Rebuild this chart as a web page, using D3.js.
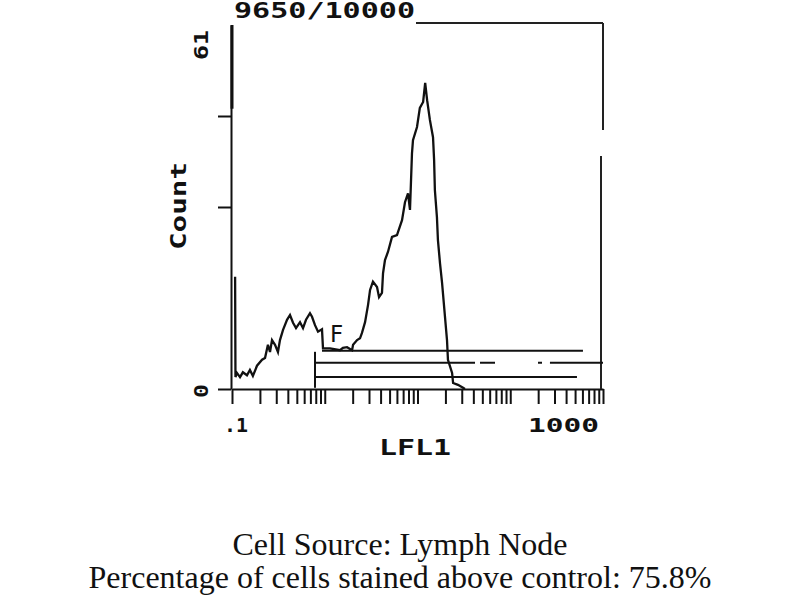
<!DOCTYPE html>
<html>
<head>
<meta charset="utf-8">
<title>LFL1 histogram</title>
<script src="https://d3js.org/d3.v7.min.js"></script>
<style>
  html, body { margin: 0; padding: 0; background: #fff; }
  svg { display: block; }
  .pix { font-family: "DejaVu Sans Mono", monospace; font-weight: bold; fill: #111; }
  .cap { font-family: "Liberation Serif", "Times New Roman", serif; fill: #111; font-size: 32px; }
</style>
</head>
<body>
<div id="chart"></div>
<script>
// histogram: LFL1 channel value and count
var lfl = [0.108, 0.109, 0.113, 0.122, 0.131, 0.145, 0.156, 0.168, 0.186, 0.211, 0.227, 0.244, 0.257, 0.270,
           0.291, 0.313, 0.329, 0.355, 0.392, 0.422, 0.455, 0.490, 0.515, 0.541, 0.583, 0.628, 0.693, 0.729,
           0.785, 0.846, 0.934, 0.957, 1.14, 1.46, 1.57, 1.74, 1.97, 2.02, 2.23, 2.40, 2.52, 2.72, 2.93, 3.08,
           3.31, 3.66, 3.85, 4.14, 4.25, 4.46, 4.81, 5.31, 6.01, 6.16, 6.81, 7.33, 7.90, 8.30, 8.72, 8.94,
           9.88, 10.6, 11.5, 12.1, 12.7, 13.6, 14.7, 15.1, 15.4, 16.2, 16.6, 17.5, 18.4, 20.8, 21.3, 23.6,
           24.2, 27.3, 31.0, 32.5];
var counts = [18.8, 2.0, 2.7, 2.0, 2.8, 2.3, 3.2, 2.2, 3.9, 4.9, 5.2, 7.4, 6.2, 8.2,
              7.4, 6.2, 8.2, 9.9, 11.6, 12.4, 11.1, 10.2, 10.7, 11.2, 10.2, 11.6, 12.7, 12.1,
              10.7, 9.6, 10.0, 6.8, 6.8, 6.5, 6.9, 7.0, 6.5, 7.4, 8.2, 8.5, 9.4, 11.2, 14.1, 16.6,
              18.0, 17.1, 15.4, 16.1, 19.4, 21.6, 23.0, 25.5, 25.8, 26.3, 28.3, 31.3, 32.8, 30.0, 39.5, 41.7,
              43.9, 47.1, 48.1, 51.3, 48.4, 45.1, 42.2, 38.4, 33.3, 28.8, 25.0, 21.0, 17.8, 8.2, 4.9, 2.7,
              1.0, 0.7, 0.2, 0];

// marker gates: start, end (LFL1) and drawing level (count)
var gateStart = [0.934, 0.785, 0.785];
var gateEnd   = [608, 1000, 524];
var gateLevel = [6.4, 4.4, 2.0];
// pieces of the broken middle gate
var gapFrom = [41.7, 68.5, 220];
var gapTo   = [47.2, 199, 268];

var xDomain = [0.1, 1000];
var yMax = 61;
var yTicks = [0, 30.5, 45.75];
var eventsText = "9650/10000";
var captions = ["Cell Source: Lymph Node", "Percentage of cells stained above control: 75.8%"];

var svg = d3.select("#chart").append("svg").attr("width", 800).attr("height", 600);

var x = d3.scaleLog().domain(xDomain).range([232, 603]);
var y = d3.scaleLinear().domain([0, yMax]).range([389, 25]);

// log minor ticks 1..9 per decade
var xt = [];
for (var e = -1; e < 3; e++) for (var m = 1; m < 10; m++) xt.push(m * Math.pow(10, e));
xt.push(1000);

var gx = svg.append("g").attr("transform", "translate(0,389)")
    .call(d3.axisBottom(x).tickValues(xt).tickFormat("").tickSize(15).tickSizeOuter(0));
gx.select(".domain").attr("stroke", "#111").attr("stroke-width", 2);
gx.selectAll(".tick line").attr("stroke", "#111").attr("stroke-width", 2);

var gy = svg.append("g").attr("transform", "translate(231,0)")
    .call(d3.axisLeft(y).tickValues(yTicks).tickFormat("").tickSize(13).tickSizeOuter(0));
gy.select(".domain").attr("stroke", "#111").attr("stroke-width", 2);
gy.selectAll(".tick line").attr("stroke", "#111").attr("stroke-width", 2);
// heavier top stretch of the count axis
svg.append("line").attr("x1", 232).attr("x2", 232).attr("y1", y(yMax)).attr("y2", y(yMax * 0.77))
    .attr("stroke", "#111").attr("stroke-width", 3);

// frame: top and right
svg.append("line").attr("x1", 416).attr("x2", x(1000)).attr("y1", 23).attr("y2", 23)
    .attr("stroke", "#222").attr("stroke-width", 2);
svg.append("line").attr("x1", x(1000)).attr("x2", x(1000)).attr("y1", 23).attr("y2", 130)
    .attr("stroke", "#222").attr("stroke-width", 2);
svg.append("line").attr("x1", x(1000) - 2).attr("x2", x(1000) - 2).attr("y1", 156).attr("y2", 389)
    .attr("stroke", "#222").attr("stroke-width", 2);

// histogram
var pts = lfl.map(function(v, i) { return [v, counts[i]]; });
svg.append("path")
    .datum(pts)
    .attr("fill", "none")
    .attr("stroke", "#111")
    .attr("stroke-width", 2.3)
    .attr("d", d3.line().x(function(d) { return x(d[0]); }).y(function(d) { return y(d[1]); }));

// gates
gateStart.forEach(function(s, i) {
    if (i === 1) {
        var segs = [[s, gapFrom[0]]];
        for (var k = 0; k < gapFrom.length - 1; k++) segs.push([gapTo[k], gapFrom[k + 1]]);
        segs.push([gapTo[gapTo.length - 1], gateEnd[i]]);
        segs.forEach(function(sg) {
            svg.append("line").attr("x1", x(sg[0])).attr("x2", x(sg[1]))
                .attr("y1", y(gateLevel[i])).attr("y2", y(gateLevel[i]))
                .attr("stroke", "#111").attr("stroke-width", 2);
        });
    } else {
        svg.append("line").attr("x1", x(s)).attr("x2", x(gateEnd[i]))
            .attr("y1", y(gateLevel[i])).attr("y2", y(gateLevel[i]))
            .attr("stroke", "#111").attr("stroke-width", 2);
    }
});
// left bracket of the lower gates
svg.append("line").attr("x1", x(gateStart[1])).attr("x2", x(gateStart[1]))
    .attr("y1", y(gateLevel[0]) + 1).attr("y2", y(0.2))
    .attr("stroke", "#111").attr("stroke-width", 2);
svg.append("text").attr("x", x(gateStart[0]) + 8).attr("y", 342)
    .attr("font-family", "DejaVu Sans, sans-serif").attr("font-size", 23).attr("fill", "#111").text("F");

// labels in the instrument's blocky style
svg.append("text").attr("class", "pix").attr("x", 234).attr("y", 18)
    .attr("font-size", 21).attr("textLength", 181).attr("lengthAdjust", "spacingAndGlyphs").text(eventsText);
svg.append("text").attr("class", "pix").attr("transform", "translate(186,250) rotate(-90)")
    .attr("font-size", 22).attr("textLength", 88).attr("lengthAdjust", "spacingAndGlyphs").text("Count");
svg.append("text").attr("class", "pix").attr("transform", "translate(208,60) rotate(-90)")
    .attr("font-size", 20).attr("textLength", 30).attr("lengthAdjust", "spacingAndGlyphs").text(yMax);
svg.append("text").attr("class", "pix").attr("transform", "translate(208,398) rotate(-90)")
    .attr("font-size", 20).attr("textLength", 14).attr("lengthAdjust", "spacingAndGlyphs").text("0");
svg.append("text").attr("class", "pix").attr("x", 224).attr("y", 432)
    .attr("font-size", 20).attr("textLength", 24).attr("lengthAdjust", "spacingAndGlyphs").text(".1");
svg.append("text").attr("class", "pix").attr("x", 528).attr("y", 432)
    .attr("font-size", 20).attr("textLength", 71).attr("lengthAdjust", "spacingAndGlyphs").text("1000");
svg.append("text").attr("class", "pix").attr("x", 379).attr("y", 455)
    .attr("font-size", 22).attr("textLength", 72).attr("lengthAdjust", "spacingAndGlyphs").text("LFL1");

// caption
svg.selectAll("text.cap").data(captions).enter().append("text")
    .attr("class", "cap")
    .attr("x", 400)
    .attr("y", function(d, i) { return 555 + i * 33; })
    .attr("text-anchor", "middle")
    .text(function(d) { return d; });
</script>
</body>
</html>
